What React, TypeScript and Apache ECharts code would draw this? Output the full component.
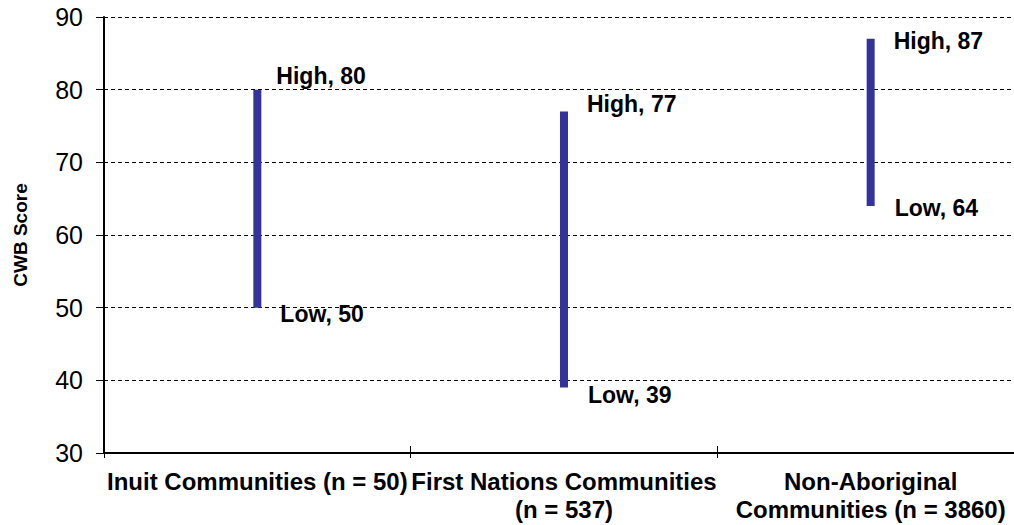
import React, { useEffect, useRef } from "react";
import * as echarts from "echarts";

const categories = [
  "Inuit Communities (n = 50)",
  "First Nations Communities\n(n = 537)",
  "Non-Aboriginal\nCommunities (n = 3860)",
];
const lowValues = [50, 39, 64];
const highValues = [80, 77, 87];
const yTicks = { min: 30, max: 90, interval: 10 };

// per-point label placement (manual offsets like the original)
const highLabelOffsets = [[23, -14], [27, -7], [27, 2]];
const lowLabelOffsets = [[27, 6], [28, 7], [28, 2]];

const FONT = "'Liberation Sans', Arial, sans-serif";
const BAR_COLOR = "#333399";

export default function App() {
  const ref = useRef<HTMLDivElement>(null);
  useEffect(() => {
    if (!ref.current) return;
    const chart = echarts.init(ref.current, undefined, { renderer: "svg" });
    const labelStyle = {
      show: true,
      color: "#000",
      fontFamily: FONT,
      fontWeight: "bold" as const,
      fontSize: 23,
      align: "left" as const,
      verticalAlign: "middle" as const,
    };
    chart.setOption({
      animation: false,
      grid: { left: 104, top: 17, bottom: 72, right: 0 },
      xAxis: [
        {
          type: "category",
          data: categories,
          boundaryGap: true,
          axisLine: { lineStyle: { color: "#000", width: 2 } },
          axisTick: { show: true, length: 5, lineStyle: { color: "#000", width: 1 } },
          axisLabel: {
            interval: 0,
            color: "#000",
            fontFamily: FONT,
            fontWeight: "bold",
            fontSize: 24,
            lineHeight: 28,
            margin: 14,
          },
        },
        {
          type: "category",
          data: categories,
          position: "bottom",
          boundaryGap: true,
          axisLine: { show: false },
          axisTick: { show: true, inside: true, length: 7, lineStyle: { color: "#000", width: 1 } },
          axisLabel: { show: false },
        },
      ],
      yAxis: {
        type: "value",
        min: yTicks.min,
        max: yTicks.max,
        interval: yTicks.interval,
        name: "CWB Score",
        nameLocation: "middle",
        nameGap: 74,
        nameTextStyle: { color: "#000", fontFamily: FONT, fontWeight: "bold", fontSize: 19 },
        axisLine: { show: true, lineStyle: { color: "#000", width: 2 } },
        axisTick: { show: true, length: 8, lineStyle: { color: "#000", width: 1 } },
        axisLabel: { color: "#000", fontFamily: FONT, fontSize: 25, margin: 21 },
        splitLine: { show: true, lineStyle: { color: "#000", type: [4, 3], width: 1 } },
      },
      series: [
        {
          type: "bar",
          stack: "range",
          barWidth: 8,
          itemStyle: { color: "transparent" },
          data: lowValues.map((v, i) => ({
            value: v,
            label: {
              ...labelStyle,
              position: lowLabelOffsets[i],
              formatter: () => `Low, ${lowValues[i]}`,
            },
          })),
          silent: true,
        },
        {
          type: "bar",
          stack: "range",
          barWidth: 8,
          itemStyle: { color: BAR_COLOR },
          data: highValues.map((v, i) => ({
            value: v - lowValues[i],
            label: {
              ...labelStyle,
              position: highLabelOffsets[i],
              formatter: () => `High, ${highValues[i]}`,
            },
          })),
        },
      ],
    });
    return () => chart.dispose();
  }, []);
  return (
    <div style={{ position: "fixed", left: 0, top: 0, width: 1014, height: 525, overflow: "hidden", background: "#fff" }}>
      <div ref={ref} style={{ width: 1024, height: 525 }} />
    </div>
  );
}
